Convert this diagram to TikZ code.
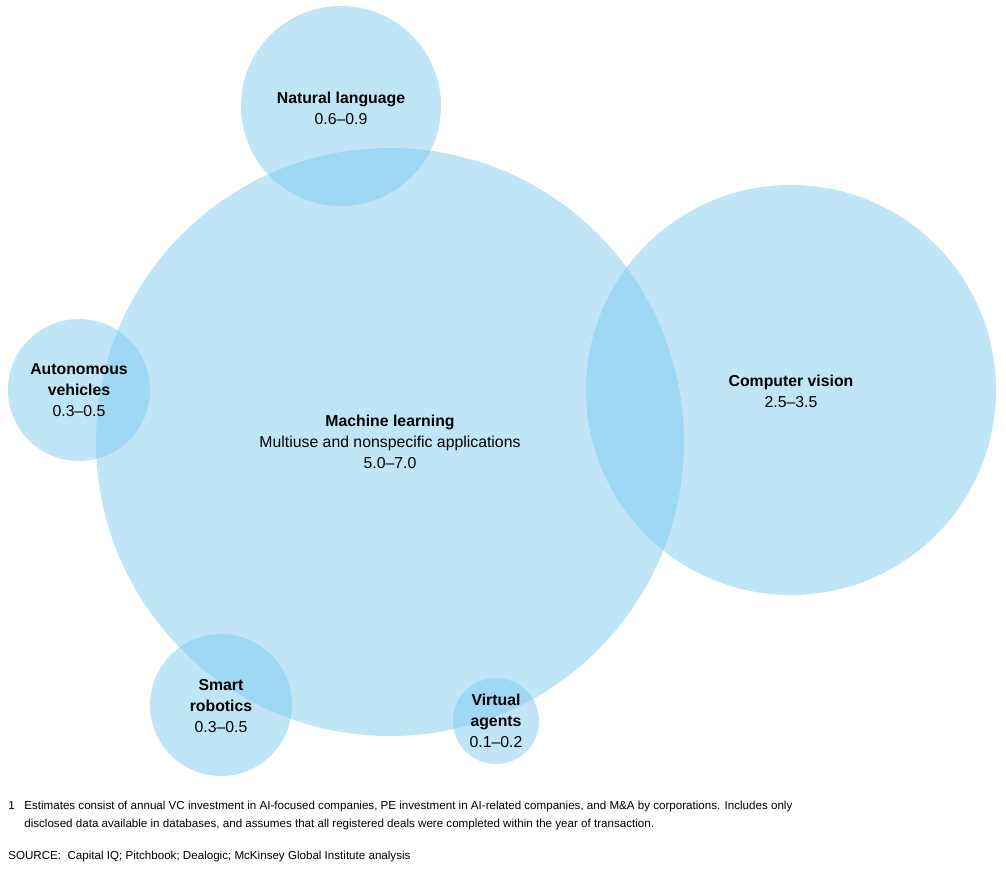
\documentclass[tikz,border=0pt]{standalone}
\usepackage{fontspec}
\setmainfont{Liberation Sans}
\usetikzlibrary{positioning}
\definecolor{bubbleblue}{HTML}{7FCBEF}

\begin{document}
\begin{tikzpicture}[x=0.02cm, y=-0.02cm,
          bubble/.style={fill=bubbleblue, fill opacity=0.5, draw=none},
          lbl/.style={align=center, font=\fontsize{9}{12}\selectfont, inner sep=0pt},
          note/.style={anchor=north west, align=left, inner sep=0pt,
                       font=\fontsize{6.6}{10.2}\selectfont},
        ]
        \useasboundingbox (0,0) rectangle (1006,870);
        % circles
        \fill[bubble] (390,442) circle (294);
        \fill[bubble] (341,106) circle (100);
        \fill[bubble] (791,390) circle (205);
        \fill[bubble] (79,390) circle (71);
        \fill[bubble] (221,705) circle (71);
        \fill[bubble] (496,721) circle (43);
        % labels
        \node[lbl] (ml) at (390,442) {\textbf{Machine learning}\\Multiuse and nonspecific applications\\5.0--7.0};
        \node[lbl] (nl) at (341,108) {\textbf{Natural language}\\0.6--0.9};
        \node[lbl] (cv) at (791,391) {\textbf{Computer vision}\\2.5--3.5};
        \node[lbl] (av) at (79,390) {\textbf{Autonomous}\\\textbf{vehicles}\\0.3--0.5};
        \node[lbl] (sr) at (221,706) {\textbf{Smart}\\\textbf{robotics}\\0.3--0.5};
        \node[lbl] (va) at (496,721) {\textbf{Virtual}\\\textbf{agents}\\0.1--0.2};
        % notes
        \node[note] (fn1) at (8,801) {1};
        \node[note] (fn) at (24,801) {Estimates consist of annual VC investment in AI-focused companies, PE investment in AI-related companies, and M\&A by corporations. Includes only\\disclosed data available in databases, and assumes that all registered deals were completed within the year of transaction.};
        \node[note] (src) at (8,851) {SOURCE:\ \ Capital IQ; Pitchbook; Dealogic; McKinsey Global Institute analysis};
      \end{tikzpicture}
\end{document}
